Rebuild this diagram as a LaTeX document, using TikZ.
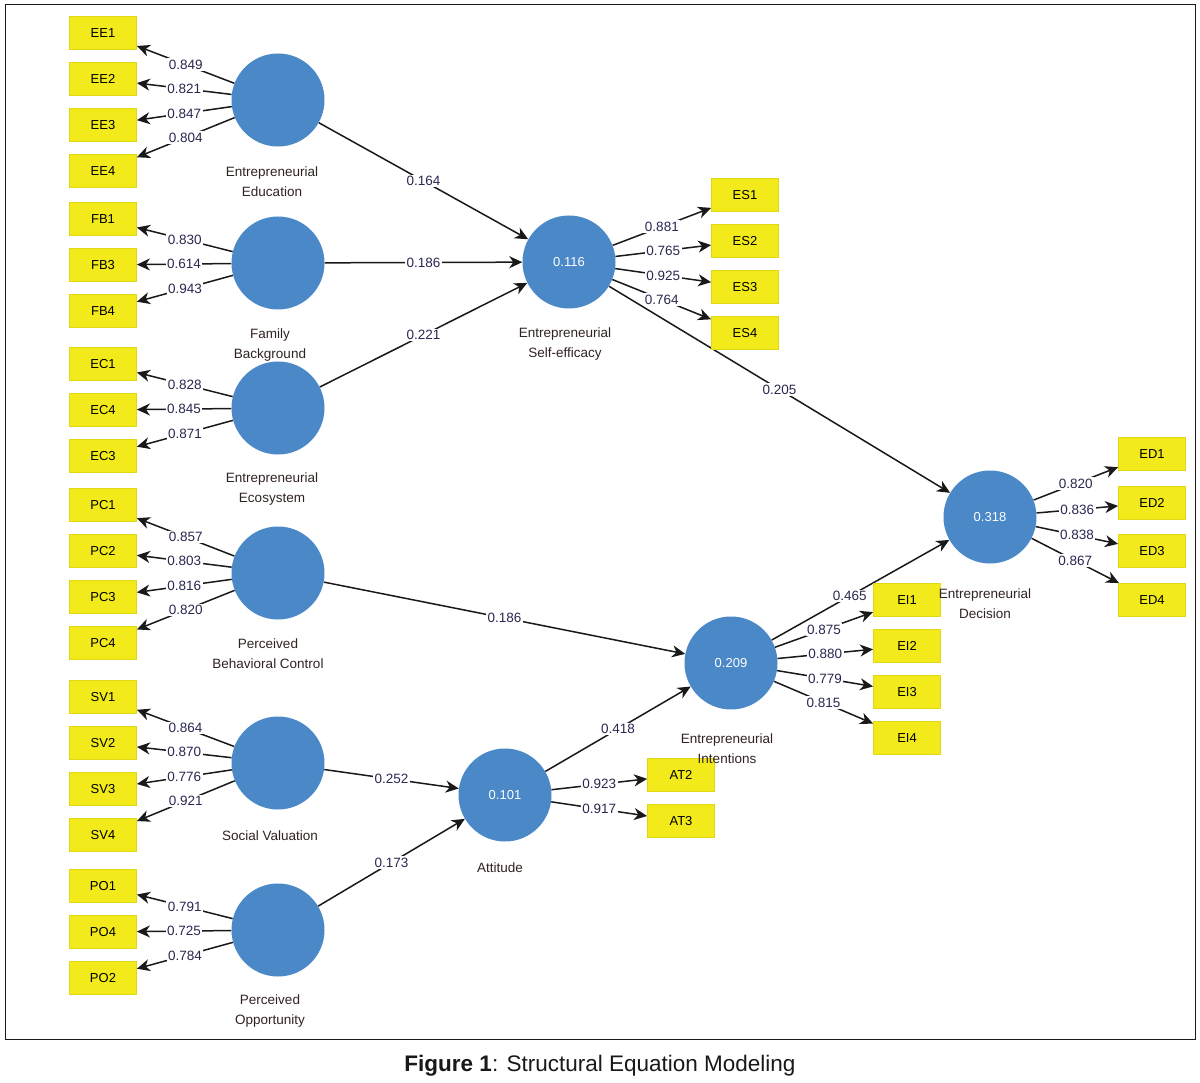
\documentclass[tikz,border=0pt]{standalone}
\usepackage{fontspec}
\setmainfont{Liberation Sans}
\usetikzlibrary{arrows.meta}
\definecolor{lvblue}{RGB}{74,136,199}
\definecolor{mvyellow}{RGB}{242,234,26}
\definecolor{mvborder}{RGB}{224,216,22}
\definecolor{numcol}{RGB}{40,40,80}
\definecolor{namecol}{RGB}{50,35,35}
\pgfdeclarelayer{bg}
\pgfdeclarelayer{paper}
\pgfsetlayers{paper,bg,main}
\begin{document}
\begin{tikzpicture}[x=1pt,y=-1pt,
 latent/.style={circle, fill=lvblue, minimum size=93pt, inner sep=0pt, text=white, font=\fontsize{13}{15}\selectfont},
 mv/.style={rectangle, fill=mvyellow, draw=mvborder, line width=0.8pt, minimum width=67pt, minimum height=33pt, inner sep=0pt, font=\fontsize{13}{15}\selectfont},
 lname/.style={align=center, text=namecol, font=\fontsize{13.5}{20}\selectfont},
 link/.style={draw=black!90, line width=1.5pt, -{Stealth[length=13pt,width=12pt,inset=4pt]}},
 coef/.style={fill=white, inner sep=1.5pt, text=numcol, font=\fontsize{13.5}{15}\selectfont},
]
\useasboundingbox (0,0) rectangle (1200,1083);
\begin{pgfonlayer}{paper}
\fill[white] (0,0) rectangle (1200,1083);
\end{pgfonlayer}
\node[draw=black!90, line width=1pt, minimum width=1190pt, minimum height=1034pt, inner sep=0pt] (frame) at (600,522) {};

% latent variables
\node[latent] (EE) at (278,100) {};
\node[latent] (FB) at (278,263) {};
\node[latent] (EC) at (278,408) {};
\node[latent] (PBC) at (278,573) {};
\node[latent] (SV) at (278,763) {};
\node[latent] (PO) at (278,930) {};
\node[latent] (ESE) at (569,262) {0.116};
\node[latent] (ED) at (990,517) {0.318};
\node[latent] (EI) at (731,663) {0.209};
\node[latent] (ATT) at (505,795) {0.101};

% indicators
\node[mv] (EE1) at (103,33) {EE1};
\node[mv] (EE2) at (103,79) {EE2};
\node[mv] (EE3) at (103,125) {EE3};
\node[mv] (EE4) at (103,171) {EE4};
\node[mv] (FB1) at (103,219) {FB1};
\node[mv] (FB3) at (103,265) {FB3};
\node[mv] (FB4) at (103,311) {FB4};
\node[mv] (EC1) at (103,364) {EC1};
\node[mv] (EC4) at (103,410) {EC4};
\node[mv] (EC3) at (103,456) {EC3};
\node[mv] (PC1) at (103,505) {PC1};
\node[mv] (PC2) at (103,551) {PC2};
\node[mv] (PC3) at (103,597) {PC3};
\node[mv] (PC4) at (103,643) {PC4};
\node[mv] (SV1) at (103,697) {SV1};
\node[mv] (SV2) at (103,743) {SV2};
\node[mv] (SV3) at (103,789) {SV3};
\node[mv] (SV4) at (103,835) {SV4};
\node[mv] (PO1) at (103,886) {PO1};
\node[mv] (PO4) at (103,932) {PO4};
\node[mv] (PO2) at (103,978) {PO2};
\node[mv] (ES1) at (745,195) {ES1};
\node[mv] (ES2) at (745,241) {ES2};
\node[mv] (ES3) at (745,287) {ES3};
\node[mv] (ES4) at (745,333) {ES4};
\node[mv] (ED1) at (1152,454) {ED1};
\node[mv] (ED2) at (1152,503) {ED2};
\node[mv] (ED3) at (1152,551) {ED3};
\node[mv] (ED4) at (1152,600) {ED4};
\node[mv] (EI1) at (907,600) {EI1};
\node[mv] (EI2) at (907,646) {EI2};
\node[mv] (EI3) at (907,692) {EI3};
\node[mv] (EI4) at (907,738) {EI4};
\node[mv] (AT2) at (681,775) {AT2};
\node[mv] (AT3) at (681,821) {AT3};

% latent names
\node[lname] (nEE) at (272,182) {Entrepreneurial\\Education};
\node[lname] (nFB) at (270,345) {Family\\Background};
\node[lname] (nEC) at (272,489) {Entrepreneurial\\Ecosystem};
\node[lname] (nPBC) at (268,654) {Perceived\\Behavioral Control};
\node[lname] (nSV) at (270,836) {Social Valuation};
\node[lname] (nPO) at (270,1011) {Perceived\\Opportunity};
\node[lname] (nESE) at (565,344) {Entrepreneurial\\Self-efficacy};
\node[lname] (nED) at (985,604) {Entrepreneurial\\Decision};
\node[lname] (nEI) at (727,749) {Entrepreneurial\\Intentions};
\node[lname] (nATT) at (500,868) {Attitude};

\begin{pgfonlayer}{bg}
% outer loadings
\draw[link] (EE) -- node[coef]{0.849} (EE1);
\draw[link] (EE) -- node[coef]{0.821} (EE2);
\draw[link] (EE) -- node[coef]{0.847} (EE3);
\draw[link] (EE) -- node[coef]{0.804} (EE4);
\draw[link] (FB) -- node[coef]{0.830} (FB1);
\draw[link] (FB) -- node[coef]{0.614} (FB3);
\draw[link] (FB) -- node[coef]{0.943} (FB4);
\draw[link] (EC) -- node[coef]{0.828} (EC1);
\draw[link] (EC) -- node[coef]{0.845} (EC4);
\draw[link] (EC) -- node[coef]{0.871} (EC3);
\draw[link] (PBC) -- node[coef]{0.857} (PC1);
\draw[link] (PBC) -- node[coef]{0.803} (PC2);
\draw[link] (PBC) -- node[coef]{0.816} (PC3);
\draw[link] (PBC) -- node[coef]{0.820} (PC4);
\draw[link] (SV) -- node[coef]{0.864} (SV1);
\draw[link] (SV) -- node[coef]{0.870} (SV2);
\draw[link] (SV) -- node[coef]{0.776} (SV3);
\draw[link] (SV) -- node[coef]{0.921} (SV4);
\draw[link] (PO) -- node[coef]{0.791} (PO1);
\draw[link] (PO) -- node[coef]{0.725} (PO4);
\draw[link] (PO) -- node[coef]{0.784} (PO2);
\draw[link] (ESE) -- node[coef]{0.881} (ES1);
\draw[link] (ESE) -- node[coef]{0.765} (ES2);
\draw[link] (ESE) -- node[coef]{0.925} (ES3);
\draw[link] (ESE) -- node[coef]{0.764} (ES4);
\draw[link] (ED) -- node[coef]{0.820} (ED1);
\draw[link] (ED) -- node[coef]{0.836} (ED2);
\draw[link] (ED) -- node[coef]{0.838} (ED3);
\draw[link] (ED) -- node[coef]{0.867} (ED4);
\draw[link] (EI) -- node[coef]{0.875} (EI1);
\draw[link] (EI) -- node[coef]{0.880} (EI2);
\draw[link] (EI) -- node[coef]{0.779} (EI3);
\draw[link] (EI) -- node[coef]{0.815} (EI4);
\draw[link] (ATT) -- node[coef]{0.923} (AT2);
\draw[link] (ATT) -- node[coef]{0.917} (AT3);
% structural paths
\draw[link] (EE) -- node[coef]{0.164} (ESE);
\draw[link] (FB) -- node[coef]{0.186} (ESE);
\draw[link] (EC) -- node[coef]{0.221} (ESE);
\draw[link] (ESE) -- node[coef]{0.205} (ED);
\draw[link] (PBC) -- node[coef]{0.186} (EI);
\draw[link] (SV) -- node[coef]{0.252} (ATT);
\draw[link] (PO) -- node[coef]{0.173} (ATT);
\draw[link] (ATT) -- node[coef]{0.418} (EI);
\draw[link] (EI) -- node[coef, pos=0.44]{0.465} (ED);
\end{pgfonlayer}

\node[font=\fontsize{22.5}{26}\selectfont, text=black!90] (caption) at (600,1066) {\textbf{Figure 1}: Structural Equation Modeling};
\end{tikzpicture}
\end{document}
